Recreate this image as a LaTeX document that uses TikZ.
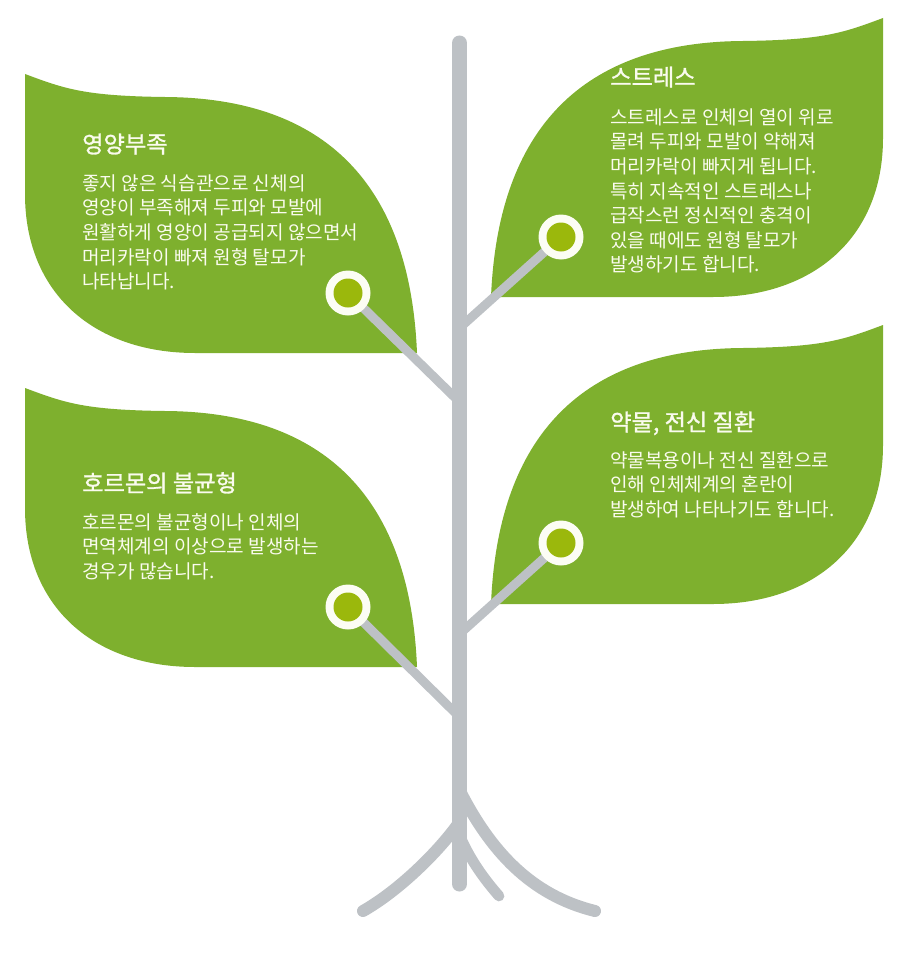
\documentclass[tikz,border=0pt]{standalone}
\usepackage{fontspec}
\newfontfamily\kr{Noto Sans CJK KR}
\newfontfamily\krt[FakeBold=1.2]{Noto Sans CJK KR}
\definecolor{leafgreen}{RGB}{126,176,46}
\definecolor{dotgreen}{RGB}{155,184,12}
\definecolor{barkgray}{RGB}{189,193,197}
\definecolor{txtwhite}{RGB}{250,251,238}
\definecolor{ringwhite}{RGB}{252,253,244}
\begin{document}
\begin{tikzpicture}[x=0.75pt,y=-0.75pt,
  leafshape/.style={fill=leafgreen},
  trunkline/.style={draw=barkgray,line cap=round,line width=11.25pt},
  rootline/.style={draw=barkgray,line cap=round,line width=9pt},
  smallroot/.style={draw=barkgray,line cap=round,line width=8pt},
  branchline/.style={draw=barkgray,line cap=butt,line width=6.75pt},
  ring/.style={circle,fill=ringwhite,minimum size=33.75pt,inner sep=0pt},
  dotc/.style={circle,fill=dotgreen,minimum size=21.75pt,inner sep=0pt},
  ttl/.style={text=txtwhite,font=\krt\fontsize{17.4}{22}\selectfont,inner sep=0pt,align=left,anchor=north west},
  bodytext/.style={text=txtwhite,font=\kr\fontsize{14.3}{18.45}\selectfont,inner sep=0pt,align=left,anchor=north west}]
\useasboundingbox (0,0) rectangle (900,956);
\fill[white] (0,0) rectangle (900,956);

\def\leafpath{(0,0) .. controls (40,15) and (60,22) .. (140,23) .. controls (300,24) and (385,110) .. (392,279) -- (170,279) .. controls (70,279) and (0,220) .. (0,120) -- cycle}

% leaves
\begin{scope}[shift={(25,74)}]
  \fill[leafshape] \leafpath;
\end{scope}
\begin{scope}[shift={(25,388)}]
  \fill[leafshape] \leafpath;
\end{scope}
\begin{scope}[shift={(883,18)},xscale=-1]
  \fill[leafshape] \leafpath;
\end{scope}
\begin{scope}[shift={(883,325)},xscale=-1]
  \fill[leafshape] \leafpath;
\end{scope}

% tree
\coordinate (ttop) at (459.5,43);
\coordinate (tbot) at (459.5,884);
\coordinate (j1) at (459.5,402);
\coordinate (j2) at (459.5,328);
\coordinate (j3) at (459.5,717);
\coordinate (j4) at (459.5,634);
\coordinate (rl0) at (459.5,822);
\coordinate (rl1) at (363,911);
\coordinate (rr0) at (459.5,790);
\coordinate (rr1) at (595,911);
\coordinate (rs0) at (459.5,835);
\coordinate (rs1) at (499,896);
\coordinate (p1) at (348,293);
\coordinate (p2) at (561,237);
\coordinate (p3) at (348,607);
\coordinate (p4) at (561,543);

\draw[branchline] (p1) -- (j1);
\draw[branchline] (p2) -- (j2);
\draw[branchline] (p3) -- (j3);
\draw[branchline] (p4) -- (j4);
\draw[rootline] (rl0) .. controls (440,850) and (400,890) .. (rl1);
\draw[rootline] (rr0) .. controls (490,850) and (530,895) .. (rr1);
\draw[smallroot] (rs0) .. controls (470,860) and (485,880) .. (rs1);
\draw[trunkline] (ttop) -- (tbot);

\node[ring] (c1) at (p1) {};
\node[ring] (c2) at (p2) {};
\node[ring] (c3) at (p3) {};
\node[ring] (c4) at (p4) {};
\node[dotc] (d1) at (p1) {};
\node[dotc] (d2) at (p2) {};
\node[dotc] (d3) at (p3) {};
\node[dotc] (d4) at (p4) {};

% texts
\node[ttl] (t1) at (82,125.8) {\rule{0pt}{20pt}영양부족};
\node[bodytext] (b1) at (82,170) {\rule{0pt}{15pt}좋지 않은 식습관으로 신체의\\영양이 부족해져 두피와 모발에\\원활하게 영양이 공급되지 않으면서\\머리카락이 빠져 원형 탈모가\\나타납니다.};

\node[ttl] (t2) at (610,58.8) {\rule{0pt}{20pt}스트레스};
\node[bodytext] (b2) at (610,104) {\rule{0pt}{15pt}스트레스로 인체의 열이 위로\\몰려 두피와 모발이 약해져\\머리카락이 빠지게 됩니다.\\특히 지속적인 스트레스나\\급작스런 정신적인 충격이\\있을 때에도 원형 탈모가\\발생하기도 합니다.};

\node[ttl] (t3) at (82,464.8) {\rule{0pt}{20pt}호르몬의 불균형};
\node[bodytext] (b3) at (82,509) {\rule{0pt}{15pt}호르몬의 불균형이나 인체의\\면역체계의 이상으로 발생하는\\경우가 많습니다.};

\node[ttl] (t4) at (610,403.8) {\rule{0pt}{20pt}약물, 전신 질환};
\node[bodytext] (b4) at (610,447) {\rule{0pt}{15pt}약물복용이나 전신 질환으로\\인해 인체체계의 혼란이\\발생하여 나타나기도 합니다.};
\end{tikzpicture}
\end{document}
